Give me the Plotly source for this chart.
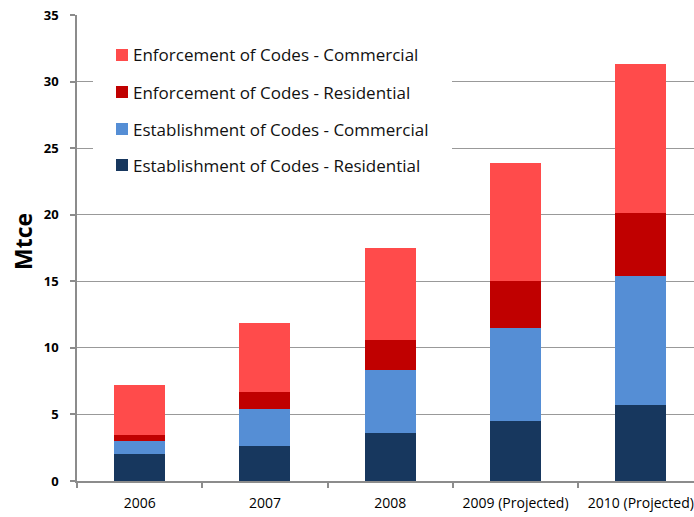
import plotly.graph_objects as go

# Annual savings by building-code measure (Mtce)
years = ["2006", "2007", "2008", "2009 (Projected)", "2010 (Projected)"]
est_residential = [2.0, 2.6, 3.6, 4.5, 5.7]
est_commercial = [1.0, 2.8, 4.75, 7.0, 9.7]
enf_residential = [0.45, 1.3, 2.25, 3.5, 4.7]
enf_commercial = [3.75, 5.2, 6.9, 8.9, 11.2]

series_names = [
    "Establishment of Codes - Residential",
    "Establishment of Codes - Commercial",
    "Enforcement of Codes - Residential",
    "Enforcement of Codes - Commercial",
]
series_values = [est_residential, est_commercial, enf_residential, enf_commercial]
series_colors = ["#17375E", "#558ED5", "#C00000", "#FF4B4B"]

y_ticks = [0, 5, 10, 15, 20, 25, 30, 35]

FONT = "Open Sans"
W, H = 694, 517
L, R, T, B = 77, 0, 15, 36
PW, PH = W - L - R, H - T - B
CAT_PX = 125.3  # pixel width of one category slot


def px_x(px):
    return (px - L) / PW


def px_y(py):
    return 1 - (py - T) / PH


fig = go.Figure()
for name, vals, col in zip(series_names, series_values, series_colors):
    fig.add_trace(go.Bar(x=years, y=vals, name=name, marker=dict(color=col, line=dict(width=0)),
                         showlegend=False))

# legend panel drawn over the upper gridlines
shapes = [dict(type="rect", xref="paper", yref="paper", layer="above",
               x0=px_x(93), x1=px_x(452), y0=px_y(32), y1=px_y(190),
               fillcolor="white", line=dict(width=0))]
annotations = []
row_y = [165, 129, 92, 55]
for name, col, ry in zip(series_names, series_colors, row_y):
    shapes.append(dict(type="rect", xref="paper", yref="paper", layer="above",
                       x0=px_x(116), x1=px_x(128), y0=px_y(ry + 6), y1=px_y(ry - 6),
                       fillcolor=col, line=dict(width=0)))
    annotations.append(dict(text=name, xref="paper", yref="paper", x=px_x(131), y=px_y(ry),
                            xanchor="left", yanchor="middle", showarrow=False,
                            font=dict(family=FONT, size=17, color="#111111")))

annotations.append(dict(text="<b>Mtce</b>", xref="paper", yref="paper", x=px_x(23), y=px_y(241),
                        xanchor="center", yanchor="middle", textangle=-90, showarrow=False,
                        font=dict(family=FONT, size=23, color="#000000")))

n_visible = PW / CAT_PX
fig.update_layout(
    width=W, height=H,
    margin=dict(l=L, r=R, t=T, b=B, pad=0),
    template="none",
    paper_bgcolor="white", plot_bgcolor="white",
    barmode="stack", bargap=0.593,
    shapes=shapes, annotations=annotations,
    font=dict(family=FONT, color="#000000"),
)
fig.update_xaxes(
    type="category", range=[-0.5, -0.5 + n_visible], automargin=False,
    showgrid=False, zeroline=False,
    showline=True, linecolor="#8c8c8c", linewidth=1.5,
    ticks="outside", tickson="boundaries", ticklen=5, tickcolor="#8c8c8c", tickwidth=1.5,
    tickfont=dict(family=FONT, size=14, color="#000000"),
    ticklabelstandoff=8,
)
fig.update_yaxes(
    range=[0, 35], tickvals=y_ticks, automargin=False,
    showgrid=True, gridcolor="#999999", gridwidth=1.3, zeroline=False,
    showline=True, linecolor="#8c8c8c", linewidth=1.5,
    ticks="outside", ticklen=5, tickcolor="#8c8c8c", tickwidth=1.5,
    tickfont=dict(family=FONT, size=13, color="#000000", weight="bold"),
    ticklabelstandoff=9,
)

fig.write_html("out.html")
